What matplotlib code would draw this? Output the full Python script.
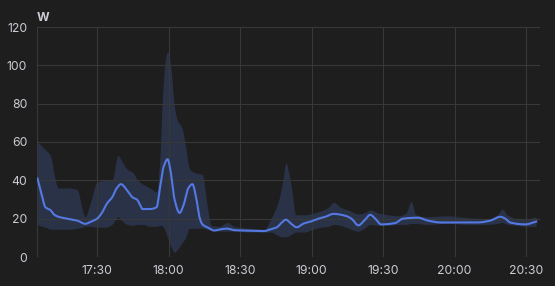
import matplotlib
matplotlib.use("Agg")
import matplotlib.pyplot as plt
import numpy as np

# minutes after 17:00
line_t = [5, 6.7, 8.3, 10.4, 12.1, 13.75, 17.5, 21.7, 25, 27.5, 30, 32, 34.2, 36.25, 38.3, 40,
          42.5, 45, 46.7, 49.2, 52, 55, 56.25, 57.9, 59.6, 60.8, 62.5, 64.6, 66.25, 68.3, 70,
          71.7, 72.9, 74.2, 76.25, 79.2, 82, 84.6, 87.5, 91.7, 100, 102.9, 105.4, 107.5, 109.2,
          111.25, 113.75, 116.7, 119.6, 122.9, 125.8, 129.2, 134.2, 136.7, 139.6, 142.1, 144.6,
          146.7, 149.2, 155, 158.3, 164.6, 168.75, 174.2, 189.6, 195, 199.2, 201.25, 203.3,
          209.6, 214.2]
line_v = [41, 33, 26, 24.5, 22, 21, 20, 19, 17.3, 18.5, 20, 23, 28, 31, 36, 38,
          35, 31, 30, 25, 25, 26, 35, 47, 51, 45, 30, 23, 27, 36, 38,
          30, 21, 17, 15.5, 13.8, 14.5, 14.8, 14, 13.8, 13.5, 14.5, 15.5, 18, 19.5,
          17.5, 15.5, 17.5, 18.5, 20, 21, 22.5, 21.5, 20, 16.5, 19, 22,
          20, 17, 17.7, 20, 20.5, 19, 18, 18, 19, 21, 20, 18,
          17, 18.5]

band_t = [5, 6.7, 8.3, 10.4, 12.5, 13.75, 18.75, 21.7, 23.75, 25, 27.1, 30, 33.3, 36.25, 38.75,
          40.4, 42.5, 45, 47.1, 49.2, 52.1, 55, 56.25, 57.5, 58.75, 59.6, 60.8, 62.5, 63.75,
          65.4, 67.1, 68.75, 70.8, 74.2, 75.8, 77.9, 81.25, 84.6, 87.5, 93.75, 100, 102.9,
          106.25, 107.9, 109.2, 110.4, 111.7, 113.3, 116.7, 119.6, 123.75, 127.1, 129.2, 132.1,
          135.4, 139.6, 142.1, 144.6, 147.9, 152.1, 156.25, 159.6, 161.7, 163.75, 168.75, 177.1,
          185.4, 193.75, 197.9, 200, 202.1, 206.25, 210.4, 214.2]
band_hi = [60, 58, 56, 53, 40, 36, 36, 35, 25, 21, 28, 39, 40, 40, 53,
           50, 46, 44, 40, 38, 36, 34, 50, 85, 104, 107, 100, 78, 71,
           68, 58, 46, 44, 43, 30, 16.5, 16, 18, 16, 15, 14.5, 20,
           30, 40, 49, 44, 35, 22, 22, 22.5, 24, 26, 28.5, 26,
           24.5, 22.5, 23, 24.5, 23, 22, 21.5, 23, 29, 22, 21, 21.5,
           20.5, 20, 22, 25, 22, 20, 20, 21]
band_lo = [17, 16, 15.5, 14.5, 14.5, 14.5, 14.5, 15, 15.5, 16, 16, 15.5, 15.5, 17, 21,
           19, 17, 16.5, 17, 17, 16, 16, 16.5, 16, 13, 10, 6, 2.5, 4,
           7, 10, 15, 15, 15, 14.5, 14, 13.5, 13.5, 13.5, 13, 13, 13,
           11, 10.5, 10.5, 11, 12, 13, 13, 14, 15.5, 16, 17, 16.5,
           15, 13.5, 15, 17, 16.5, 16.5, 17, 17, 17.5, 17.5, 17, 17.5,
           17, 17, 17.5, 18, 17, 16.5, 16, 16]

yticks = [0, 20, 40, 60, 80, 100, 120]
xtick_min = [30, 60, 90, 120, 150, 180, 210]
xtick_labels = ["17:30", "18:00", "18:30", "19:00", "19:30", "20:00", "20:30"]


def smooth(x, y, n=12):
    """Monotone cubic (Fritsch-Carlson) rendering of the series, like a smooth line style."""
    x = np.asarray(x, float)
    y = np.asarray(y, float)
    h = np.diff(x)
    d = np.diff(y) / h
    m = np.zeros_like(y)
    m[0], m[-1] = d[0], d[-1]
    for i in range(1, len(y) - 1):
        if d[i - 1] * d[i] <= 0:
            m[i] = 0
        else:
            w1 = 2 * h[i] + h[i - 1]
            w2 = h[i] + 2 * h[i - 1]
            m[i] = (w1 + w2) / (w1 / d[i - 1] + w2 / d[i])
    xs, ys = [], []
    for i in range(len(h)):
        s = np.linspace(0, 1, n, endpoint=False)
        h00 = 2 * s**3 - 3 * s**2 + 1
        h10 = s**3 - 2 * s**2 + s
        h01 = -2 * s**3 + 3 * s**2
        h11 = s**3 - s**2
        xs.append(x[i] + s * h[i])
        ys.append(h00 * y[i] + h10 * h[i] * m[i] + h01 * y[i + 1] + h11 * h[i] * m[i + 1])
    xs.append([x[-1]])
    ys.append([y[-1]])
    return np.concatenate(xs), np.concatenate(ys)


bg = "#1e1e1f"
txt = "#cbcbd3"
grid = "#383838"

plt.rcParams['font.family'] = ['Inter', 'DejaVu Sans']
fig = plt.figure(figsize=(5.55, 2.86), dpi=100, facecolor=bg)
ax = fig.add_axes([37/555, 29/286, 503/555, 230/286], facecolor=bg)

bx, bh = smooth(band_t, band_hi)
_, bl = smooth(band_t, band_lo)
ax.fill_between(bx, bl, bh, color="#2a3247", lw=0, zorder=1)
lx, ly = smooth(line_t, line_v)
ax.plot(lx, ly, color="#5479e2", lw=1.5, zorder=3, solid_joinstyle="round")

ax.set_xlim(4.8, 215.8)
ax.set_ylim(0, 120)
ax.set_yticks(yticks)
ax.set_xticks(xtick_min)
ax.set_xticklabels(xtick_labels)
ax.grid(True, color=grid, lw=0.8, zorder=0)
ax.axvline(4.8, color=grid, lw=0.8, zorder=0)
ax.axvline(215.8, color=grid, lw=0.8, zorder=0)
for s in ax.spines.values():
    s.set_visible(False)
ax.tick_params(axis='both', length=0, colors=txt, labelsize=8.8)
ax.tick_params(axis='y', pad=7)
ax.tick_params(axis='x', pad=6)
for lbl in ax.get_yticklabels():
    lbl.set_horizontalalignment('right')
fig.text(37/555, 1 - 18/286, "W", color=txt, fontsize=8.8, ha='left', va='center', fontweight='bold')

fig.savefig("out.png", dpi=100, facecolor=bg)
